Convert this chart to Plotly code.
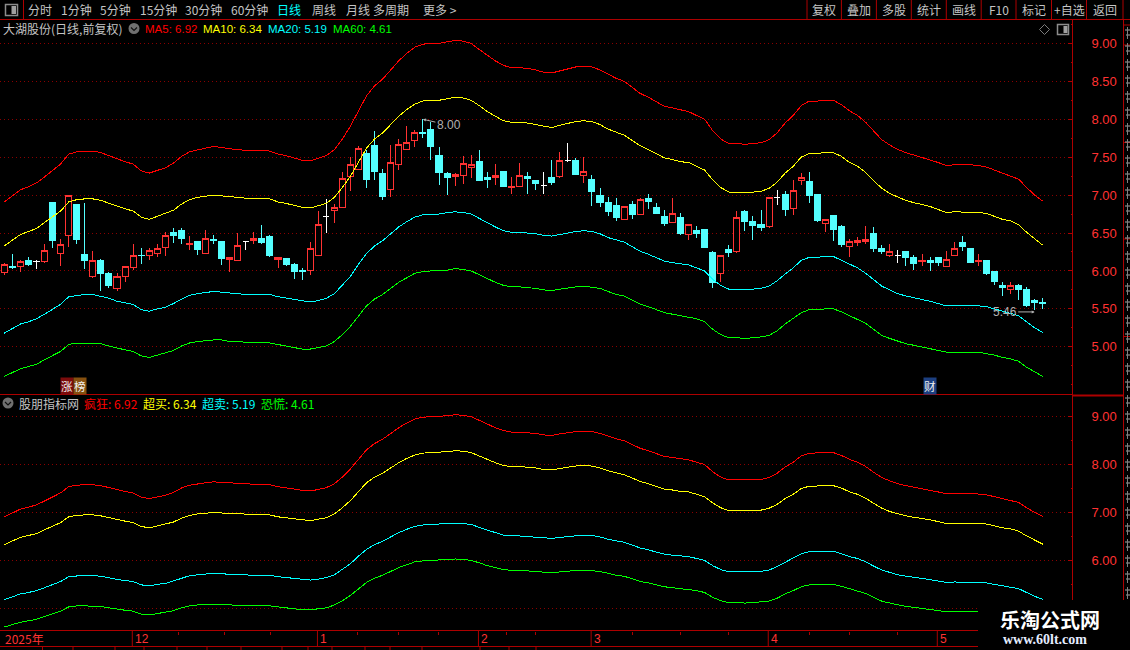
import plotly.graph_objects as go

# candle values, one per trading day
opens = [5.98,6.06,6.06,6.14,6.12,6.12,6.90,6.23,6.47,6.88,
         6.22,5.93,6.14,5.97,5.77,5.93,6.04,6.21,6.20,6.23,
         6.31,6.51,6.53,6.35,6.39,6.23,6.42,6.39,6.15,6.14,
         6.39,6.40,6.43,6.46,6.15,6.17,6.08,6.00,6.00,6.20,
         6.72,6.80,6.84,7.24,7.34,7.55,7.66,7.28,7.07,7.41,
         7.60,7.72,7.83,7.87,7.52,7.28,7.24,7.26,7.37,7.44,
         7.23,7.23,7.31,7.10,7.12,7.25,7.19,7.13,7.23,7.24,
         7.45,7.46,7.26,7.21,7.00,6.90,6.86,6.68,6.87,6.74,
         6.96,6.84,6.72,6.64,6.70,6.48,6.53,6.54,6.24,5.96,
         6.28,6.25,6.78,6.65,6.61,6.58,6.97,7.01,6.82,7.19,
         7.18,7.01,6.63,6.73,6.59,6.32,6.37,6.39,6.50,6.29,
         6.21,6.20,6.25,6.18,6.13,6.14,6.18,6.06,6.20,6.37,
         6.29,6.13,6.14,5.99,5.81,5.75,5.81,5.75,5.61,5.59]
closes = [6.09,6.05,6.12,6.08,6.12,6.27,6.40,6.35,7.00,6.41,
          6.14,6.14,5.96,5.81,5.93,6.06,6.21,6.20,6.27,6.29,
          6.47,6.47,6.43,6.36,6.28,6.43,6.40,6.16,6.18,6.34,
          6.39,6.43,6.38,6.21,6.18,6.08,5.99,5.99,6.29,6.61,
          6.72,6.84,7.22,7.41,7.62,7.20,7.31,6.98,7.43,7.67,
          7.70,7.83,7.81,7.64,7.30,7.23,7.27,7.42,7.40,7.19,
          7.20,7.26,7.12,7.12,7.26,7.22,7.15,7.13,7.17,7.46,
          7.45,7.27,7.31,7.05,6.90,6.79,6.70,6.85,6.75,6.94,
          6.91,6.76,6.62,6.76,6.49,6.61,6.50,6.31,5.85,6.21,
          6.24,6.71,6.65,6.60,6.57,6.97,6.97,6.81,7.06,7.23,
          7.00,6.66,6.68,6.54,6.35,6.39,6.40,6.42,6.29,6.26,
          6.26,6.20,6.18,6.10,6.14,6.11,6.11,6.15,6.30,6.32,
          6.11,6.14,5.96,5.86,5.78,5.81,5.75,5.54,5.58,5.57]
highs = [6.11,6.23,6.14,6.18,6.14,6.35,6.90,6.42,7.00,6.88,
         6.90,6.26,6.16,5.99,5.97,6.06,6.35,6.30,6.30,6.35,
         6.52,6.57,6.57,6.46,6.39,6.54,6.47,6.39,6.18,6.50,
         6.39,6.51,6.61,6.47,6.18,6.17,6.10,6.04,6.38,6.79,
         6.95,6.88,7.31,7.50,7.65,7.59,7.85,7.34,7.66,7.74,
         7.91,7.86,8.00,7.97,7.64,7.30,7.29,7.52,7.53,7.60,
         7.31,7.41,7.31,7.24,7.42,7.31,7.19,7.31,7.46,7.57,
         7.69,7.49,7.50,7.26,7.09,6.97,6.96,6.86,6.92,6.96,
         7.01,6.89,6.80,6.96,6.76,6.62,6.59,6.55,6.26,6.21,
         6.34,6.79,6.81,6.72,6.80,6.97,7.07,7.05,7.20,7.29,
         7.31,7.01,6.68,6.74,6.60,6.42,6.45,6.59,6.58,6.34,
         6.36,6.27,6.25,6.21,6.22,6.18,6.18,6.26,6.38,6.46,
         6.30,6.22,6.15,5.99,5.86,5.86,5.83,5.79,5.63,5.64]
lows = [5.95,6.03,5.99,6.06,6.03,6.11,6.30,6.06,6.32,6.35,
        6.03,5.91,5.73,5.78,5.74,5.85,6.01,6.09,6.14,6.18,
        6.20,6.37,6.36,6.28,6.21,6.23,6.36,6.08,5.99,6.13,
        6.28,6.36,6.36,6.18,6.04,6.06,5.89,5.88,5.95,6.20,
        6.50,6.63,6.84,7.05,7.33,7.09,7.20,6.93,6.98,7.33,
        7.59,7.63,7.75,7.46,7.13,7.00,7.12,7.15,7.22,7.18,
        7.09,7.13,7.12,7.01,7.12,7.01,7.07,7.01,7.13,7.22,
        7.43,7.27,7.16,6.86,6.84,6.72,6.66,6.68,6.69,6.74,
        6.82,6.75,6.59,6.63,6.48,6.41,6.43,6.30,5.78,5.86,
        6.19,6.24,6.53,6.41,6.53,6.57,6.87,6.73,6.74,7.13,
        6.90,6.65,6.52,6.40,6.32,6.18,6.33,6.36,6.25,6.22,
        6.19,6.10,6.07,6.01,6.07,6.00,6.07,6.05,6.20,6.26,
        6.10,6.07,5.95,5.81,5.67,5.69,5.62,5.53,5.48,5.50]
doji_days = [4, 30, 40, 67, 70, 96, 111]

# the four band lines (same numbers in both panes)
ma5 = [6.91,6.99,7.07,7.11,7.16,7.24,7.32,7.41,7.54,7.57,
       7.58,7.58,7.56,7.52,7.47,7.44,7.41,7.32,7.29,7.33,
       7.36,7.42,7.51,7.57,7.60,7.62,7.64,7.63,7.61,7.60,
       7.59,7.59,7.59,7.58,7.54,7.52,7.49,7.46,7.45,7.48,
       7.52,7.60,7.74,7.91,8.12,8.31,8.44,8.53,8.65,8.77,
       8.87,8.95,8.99,9.00,9.00,9.02,9.04,9.03,9.00,8.92,
       8.84,8.77,8.71,8.68,8.68,8.67,8.65,8.62,8.61,8.64,
       8.67,8.69,8.70,8.69,8.65,8.59,8.54,8.50,8.42,8.34,
       8.29,8.23,8.17,8.15,8.12,8.10,8.05,8.00,7.85,7.74,
       7.68,7.68,7.67,7.68,7.69,7.73,7.82,7.95,8.05,8.18,
       8.24,8.24,8.25,8.25,8.19,8.11,8.05,7.96,7.84,7.73,
       7.66,7.60,7.56,7.53,7.50,7.47,7.43,7.39,7.40,7.40,
       7.40,7.39,7.37,7.33,7.29,7.26,7.21,7.10,7.00,6.92]
ma10 = [6.33,6.41,6.48,6.52,6.56,6.64,6.71,6.79,6.91,6.94,
        6.95,6.95,6.93,6.89,6.85,6.82,6.79,6.71,6.68,6.72,
        6.75,6.80,6.88,6.94,6.97,6.99,7.00,6.99,6.98,6.97,
        6.96,6.96,6.96,6.95,6.91,6.89,6.87,6.84,6.83,6.86,
        6.89,6.97,7.10,7.25,7.44,7.62,7.74,7.82,7.93,8.04,
        8.13,8.20,8.24,8.25,8.25,8.27,8.29,8.28,8.25,8.18,
        8.10,8.04,7.98,7.96,7.96,7.95,7.93,7.90,7.89,7.92,
        7.95,7.97,7.98,7.97,7.93,7.87,7.83,7.79,7.72,7.65,
        7.60,7.54,7.49,7.47,7.44,7.43,7.38,7.33,7.20,7.10,
        7.04,7.04,7.03,7.04,7.05,7.09,7.17,7.29,7.38,7.50,
        7.55,7.55,7.56,7.56,7.51,7.43,7.38,7.30,7.19,7.09,
        7.02,6.97,6.93,6.90,6.88,6.85,6.81,6.77,6.78,6.78,
        6.78,6.77,6.76,6.72,6.68,6.66,6.61,6.51,6.42,6.34]
ma20 = [5.18,5.24,5.30,5.33,5.37,5.43,5.49,5.56,5.66,5.68,
        5.69,5.69,5.67,5.64,5.60,5.58,5.56,5.49,5.47,5.50,
        5.52,5.57,5.63,5.68,5.70,5.72,5.73,5.72,5.71,5.70,
        5.69,5.69,5.69,5.69,5.66,5.64,5.62,5.60,5.59,5.61,
        5.64,5.70,5.81,5.93,6.09,6.23,6.33,6.40,6.49,6.58,
        6.65,6.71,6.74,6.75,6.75,6.77,6.78,6.77,6.75,6.69,
        6.63,6.58,6.53,6.51,6.51,6.50,6.49,6.47,6.46,6.48,
        6.50,6.52,6.53,6.52,6.49,6.44,6.41,6.38,6.32,6.26,
        6.22,6.17,6.13,6.11,6.09,6.08,6.04,6.00,5.89,5.81,
        5.76,5.76,5.75,5.76,5.77,5.80,5.87,5.96,6.04,6.14,
        6.18,6.18,6.19,6.19,6.14,6.08,6.04,5.97,5.88,5.80,
        5.75,5.70,5.67,5.65,5.63,5.60,5.57,5.54,5.55,5.55,
        5.55,5.54,5.53,5.50,5.47,5.45,5.41,5.33,5.25,5.19]
ma60 = [4.61,4.66,4.71,4.74,4.77,4.83,4.88,4.94,5.03,5.05,
        5.05,5.05,5.04,5.01,4.98,4.96,4.94,4.88,4.86,4.89,
        4.91,4.95,5.01,5.05,5.07,5.08,5.09,5.09,5.07,5.07,
        5.06,5.06,5.06,5.05,5.03,5.01,4.99,4.97,4.97,4.99,
        5.01,5.07,5.16,5.27,5.41,5.54,5.63,5.69,5.77,5.85,
        5.91,5.97,5.99,6.00,6.00,6.01,6.03,6.02,6.00,5.95,
        5.89,5.85,5.81,5.79,5.79,5.78,5.77,5.75,5.74,5.76,
        5.78,5.79,5.80,5.79,5.77,5.73,5.69,5.67,5.61,5.56,
        5.53,5.49,5.45,5.43,5.41,5.40,5.37,5.33,5.23,5.16,
        5.12,5.12,5.11,5.12,5.13,5.15,5.21,5.30,5.37,5.45,
        5.49,5.49,5.50,5.50,5.46,5.41,5.37,5.31,5.23,5.15,
        5.11,5.07,5.04,5.02,5.00,4.98,4.95,4.93,4.93,4.93,
        4.93,4.93,4.91,4.89,4.86,4.84,4.81,4.73,4.67,4.61]

# price ticks
top_ticks = [5, 5.5, 6, 6.5, 7, 7.5, 8, 8.5, 9]
top_tick_labels = ["5.00", "5.50", "6.00", "6.50", "7.00", "7.50", "8.00", "8.50", "9.00"]
low_ticks = [5, 6, 7, 8, 9]
low_tick_labels = ["", "6.00", "7.00", "8.00", "9.00"]

# date strip
month_days = [16, 39, 59, 73, 95, 116]
month_labels = ["12", "1", "2", "3", "4", "5"]
week_days = [21.6, 27.3, 33.1, 43.9, 49, 53.9, 62.4, 66, 78, 84, 90, 100, 105, 111]

# texts of the window around the chart
toolbar_left = ["分时", "1分钟", "5分钟", "15分钟", "30分钟", "60分钟", "日线", "周线", "月线", "多周期", "更多 >"]
toolbar_left_x = [39.6, 76.4, 115, 158, 203.6, 249.7, 289.4, 323.6, 357.5, 391, 440]
toolbar_right = ["复权", "叠加", "多股", "统计", "画线", "F10", "标记", "+自选", "返回"]
toolbar_right_x = [824, 859, 894, 929, 964, 999, 1034, 1069, 1105]
toolbar_seps = [807, 841.4, 876.4, 911.3, 946.3, 981.2, 1016, 1051.5, 1086.5, 1123]
top_legend = ["MA5: 6.92", "MA10: 6.34", "MA20: 5.19", "MA60: 4.61"]
top_legend_x = [144, 202, 267, 332]
low_legend = ["疯狂: 6.92", "超买: 6.34", "超卖: 5.19", "恐慌: 4.61"]
low_legend_x = [83, 142, 201, 260]
bottom_seps = [42.5, 73, 115, 144, 177, 207, 241, 282, 308, 332, 365, 390, 422, 480, 509, 536]

RED = "#ff3232"
CYAN = "#54ffff"
FRAME = "#ad0000"
GRID = "#8a0000"
GREY = "#c4c4c4"
LINE_COLORS = ["#ff0000", "#ffff00", "#00ffff", "#00ff00"]
CJK = "Noto Sans CJK SC"
W = 1130
H = 650


def px(x):
    return x / W


def py(y):
    return 1 - y / H


def frame_line(x0, y0, x1, y1, color=FRAME, width=1):
    return dict(type="line", xref="paper", yref="paper", x0=px(x0), y0=py(y0), x1=px(x1), y1=py(y1),
                line=dict(color=color, width=width), layer="above")


def label(x, y, text, color=GREY, anchor="left", size=12, family=CJK, **kw):
    return dict(xref="paper", yref="paper", x=px(x), y=py(y), text=text, showarrow=False, xanchor=anchor,
                yanchor="middle", font=dict(color=color, size=size, family=family), borderpad=0, **kw)


days = list(range(len(opens)))
main_days = [d for d in days if d not in doji_days]

fig = go.Figure()
fig.add_trace(go.Candlestick(
    x=main_days,
    open=[opens[d] for d in main_days], high=[highs[d] for d in main_days],
    low=[lows[d] for d in main_days], close=[closes[d] for d in main_days],
    increasing=dict(line=dict(color=RED, width=1), fillcolor="#000000"),
    decreasing=dict(line=dict(color=CYAN, width=1), fillcolor=CYAN),
    whiskerwidth=0, hoverinfo="skip", showlegend=False,
))
fig.add_trace(go.Candlestick(
    x=doji_days,
    open=[opens[d] for d in doji_days], high=[highs[d] for d in doji_days],
    low=[lows[d] for d in doji_days], close=[closes[d] for d in doji_days],
    increasing=dict(line=dict(color="#ffffff", width=1), fillcolor="#ffffff"),
    decreasing=dict(line=dict(color="#ffffff", width=1), fillcolor="#ffffff"),
    whiskerwidth=0, hoverinfo="skip", showlegend=False,
))

for series, color in zip([ma5, ma10, ma20, ma60], LINE_COLORS):
    fig.add_trace(go.Scatter(x=days, y=series, mode="lines", line=dict(color=color, width=1),
                             hoverinfo="skip", showlegend=False))
    fig.add_trace(go.Scatter(x=days, y=series, mode="lines", line=dict(color=color, width=1),
                             xaxis="x2", yaxis="y2", hoverinfo="skip", showlegend=False))

shapes = []
# toolbar and pane frames
shapes.append(frame_line(0, 19.5, W, 19.5))
shapes.append(frame_line(23.5, 0, 23.5, 19.5))
shapes.append(frame_line(0, 394.5, 1072, 394.5))
shapes.append(frame_line(1072, 395.5, 1123, 395.5, width=2))
shapes.append(frame_line(0, 630.5, W, 630.5))
shapes.append(frame_line(0, 646.5, W, 646.5))
shapes.append(frame_line(1072.5, 20, 1072.5, 630))
for x in toolbar_seps:
    shapes.append(frame_line(x, 0, x, 19.5))
shapes.append(frame_line(1123.5, 19.5, 1123.5, 630))
for y in [25, 45, 142.5, 239, 336.5]:
    shapes.append(frame_line(1123.5, y, W, y))
for x in bottom_seps:
    shapes.append(frame_line(x, 646.5, x, H))

# the quote panel is cut off at the window edge, only slivers of it show
for y in range(30, 595, 16):
    shapes.append(frame_line(1125, y, W, y, color="#a8a8a8"))
    shapes.append(frame_line(1126, y + 5, W, y + 5, color="#a8a8a8"))
    shapes.append(frame_line(1127.5, y - 3, 1127.5, y + 9, color="#808080"))

# month separators in the date strip
for d in month_days:
    shapes.append(dict(type="line", xref="x2", yref="paper", x0=d - 0.1, x1=d - 0.1, y0=py(630.5), y1=py(646.5),
                       line=dict(color=FRAME, width=1), layer="above"))

# small window icons
icon = dict(xref="paper", yref="paper", layer="above")
shapes.append(dict(type="rect", x0=px(5.5), x1=px(17.5), y0=py(4.5), y1=py(15.5),
                   line=dict(color="#8c8c8c", width=1.5), fillcolor="#000000", **icon))
shapes.append(dict(type="rect", x0=px(11.5), x1=px(16), y0=py(6), y1=py(14),
                   line=dict(width=0), fillcolor="#a0a0a0", **icon))
shapes.append(dict(type="rect", x0=px(1057.5), x1=px(1068.5), y0=py(24.5), y1=py(34.5),
                   line=dict(color="#8c8c8c", width=1.5), fillcolor="#000000", **icon))
shapes.append(dict(type="rect", x0=px(1063.5), x1=px(1067.5), y0=py(26), y1=py(33),
                   line=dict(width=0), fillcolor="#a0a0a0", **icon))
shapes.append(dict(type="path", line=dict(color="#7c7c7c", width=1), **icon,
                   path=f"M {px(1039.5)} {py(29.5)} L {px(1044.5)} {py(24.5)} L {px(1049.5)} {py(29.5)} L {px(1044.5)} {py(34.5)} Z"))
for cx, cy in [(134, 28.5), (8, 403)]:
    shapes.append(dict(type="circle", x0=px(cx - 5.5), x1=px(cx + 5.5), y0=py(cy - 5.5), y1=py(cy + 5.5),
                       line=dict(width=0), fillcolor="#707070", **icon))
    shapes.append(dict(type="path", line=dict(color="#101010", width=1.2), **icon,
                       path=f"M {px(cx - 3)} {py(cy - 1)} L {px(cx)} {py(cy + 2)} L {px(cx + 3)} {py(cy - 1)}"))

# black corner under the site stamp
shapes.append(dict(type="rect", x0=px(978), x1=px(W), y0=py(600), y1=py(H), line=dict(width=0),
                   fillcolor="#000000", **icon))

ann = []
for x, t in zip(toolbar_left_x, toolbar_left):
    ann.append(label(x, 9.5, t, color="#00ffff" if t == "日线" else GREY, anchor="center"))
for x, t in zip(toolbar_right_x, toolbar_right):
    ann.append(label(x, 9.5, t, anchor="center"))

ann.append(label(2, 29, "大湖股份(日线,前复权)"))
for x, t, c in zip(top_legend_x, top_legend, LINE_COLORS):
    ann.append(label(x, 29, t, color=c, size=11.5, family="Liberation Sans"))
ann.append(label(18, 403, "股朋指标网"))
for x, t, c in zip(low_legend_x, low_legend, LINE_COLORS):
    ann.append(label(x, 403, t, color=c))

# highest / lowest price marks
ann.append(dict(x=52, y=8.00, xref="x", yref="y", text="8.00", ax=26, ay=6, showarrow=True, arrowhead=2,
                arrowsize=0.6, arrowwidth=1, arrowcolor="#b0b0b0", font=dict(color="#b0b0b0", size=12, family="Liberation Sans")))
ann.append(dict(x=128, y=5.46, xref="x", yref="y", text="5.46", ax=-30, ay=0, showarrow=True, arrowhead=2,
                arrowsize=0.6, arrowwidth=1, arrowcolor="#b0b0b0", font=dict(color="#b0b0b0", size=12, family="Liberation Sans")))

# event tags on the price pane
ann.append(label(67, 386, "涨", color="#f0f0f0", anchor="center", size=11.5, bgcolor="#7c0c0c"))
ann.append(label(79.5, 386, "榜", color="#f0f0f0", anchor="center", size=11.5, bgcolor="#86500f"))
ann.append(label(929.5, 386, "财", color="#f0f0f0", anchor="center", size=11.5, bgcolor="#1c3f80"))

# date strip
ann.append(label(4, 638.5, "2025年", color=RED))
for d, t in zip(month_days, month_labels):
    ann.append(dict(x=d - 0.1, y=py(638.5), xref="x2", yref="paper", text=t, showarrow=False, xanchor="left",
                    yanchor="middle", xshift=1, font=dict(color=RED, size=12, family="Liberation Sans")))

# site stamp
ann.append(label(1050, 619, "<b>乐淘公式网</b>", color="#ffffff", anchor="center", size=20))
ann.append(label(1045, 639, "<b>www.60lt.com</b>", color="#e4ecff", anchor="center", size=14, family="Liberation Serif"))

axis_common = dict(showline=False, zeroline=False, showgrid=False, showticklabels=False, ticks="",
                   range=[-0.534, 132.696], domain=[0, 1072.5 / W], fixedrange=True)
y_common = dict(side="right", zeroline=False, showgrid=True, gridcolor=GRID, griddash="1px,3px", gridwidth=1,
                ticks="inside", ticklen=5, tickcolor=FRAME, ticklabelstandoff=18, tickmode="array",
                tickfont=dict(color=RED, size=13, family="Liberation Sans"), fixedrange=True)

fig.update_layout(
    width=W,
    height=H,
    margin=dict(l=0, r=0, t=0, b=0),
    paper_bgcolor="#000000",
    plot_bgcolor="#000000",
    showlegend=False,
    boxmode="overlay",
    boxgap=0.25,
    boxgroupgap=0,
    xaxis=dict(anchor="y", rangeslider=dict(visible=False), **axis_common),
    xaxis2=dict(anchor="y2", **axis_common),
    yaxis=dict(domain=[1 - 394 / H, 1 - 20 / H], range=[4.3777, 9.3085], anchor="x",
               tickvals=top_ticks, ticktext=top_tick_labels,
               minor=dict(dtick=0.25, tick0=5, ticks="inside", ticklen=2, tickcolor=FRAME, showgrid=False), **y_common),
    yaxis2=dict(domain=[1 - 630.5 / H, 1 - 395 / H], range=[4.537, 9.453], anchor="x2",
                tickvals=low_ticks, ticktext=low_tick_labels,
                minor=dict(dtick=0.5, tick0=5, ticks="inside", ticklen=2, tickcolor=FRAME, showgrid=False), **y_common),
    shapes=shapes,
    annotations=ann,
)
fig.update_xaxes(rangeslider_visible=False)
fig.update_layout(xaxis2=dict(tickmode="array", tickvals=week_days, ticks="outside", ticklen=3, tickcolor=FRAME))

# the reference is drawn without smoothing
fig.write_html("out.html", config=dict(displayModeBar=False),
               post_script="document.body.style.margin='0';document.body.style.overflow='hidden';"
                           "document.body.style.background='#000';"
                           "document.querySelectorAll('.js-line,.boxes path').forEach(function(e){e.style.shapeRendering='crispEdges';});")
